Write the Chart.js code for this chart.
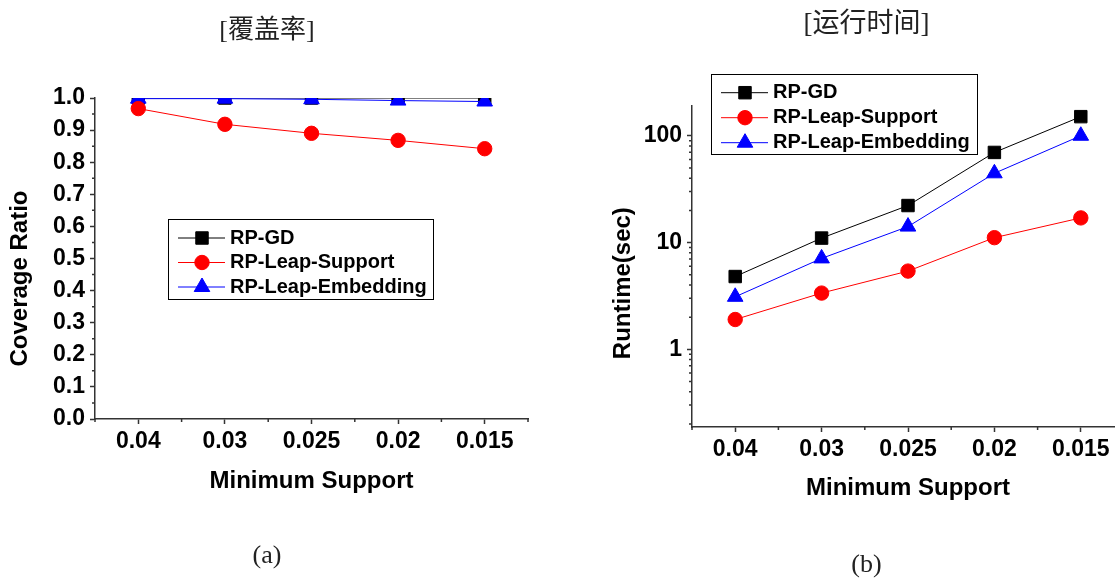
<!DOCTYPE html>
<html>
<head>
<meta charset="utf-8">
<script src="https://cdn.jsdelivr.net/npm/chart.js@4"></script>
<style>
  body { margin: 0; background: #fff; overflow: hidden; width: 1115px; height: 578px; position: relative; }
  canvas { position: absolute; top: 0; }
</style>
</head>
<body>
<canvas id="coverage" width="538" height="578" style="left:0px"></canvas>
<canvas id="runtime" width="537" height="583" style="left:597px"></canvas>
<script>
const supports = ['0.04', '0.03', '0.025', '0.02', '0.015']
const seriesNames = ['RP-GD', 'RP-Leap-Support', 'RP-Leap-Embedding']

const coverageGD = [1.0, 1.0, 1.0, 1.0, 1.0]
const coverageSupport = [0.967, 0.918, 0.89, 0.868, 0.842]
const coverageEmbedding = [0.998, 0.998, 0.996, 0.992, 0.989]

const runtimeGD = [4.8, 11, 22.2, 69.8, 151]
const runtimeSupport = [1.9, 3.36, 5.4, 11.1, 17]
const runtimeEmbedding = [3.1, 7.1, 14.1, 44.5, 100]
const runtimeTicks = [1, 10, 100]

const axisColor = '#333'
const sans = "'Liberation Sans', Arial, sans-serif"
const serif = "'Liberation Serif', 'Noto Sans CJK SC', serif"

const seriesStyle = [
  { color: '#000000', pointStyle: 'rect', radius: 8.8, order: 3 },
  { color: '#ff0000', pointStyle: 'circle', radius: 7.2, order: 1 },
  { color: '#0000ff', pointStyle: 'triangle', radius: 9, order: 2 },
]

function makeDataset(i, values, clip) {
  const s = seriesStyle[i]
  return {
    label: seriesNames[i],
    data: values,
    borderColor: s.color,
    backgroundColor: s.color,
    pointBackgroundColor: s.color,
    pointBorderColor: s.color,
    pointBorderWidth: 1,
    pointStyle: s.pointStyle,
    pointRadius: s.radius,
    borderWidth: 1,
    order: s.order,
    fill: false,
    tension: 0,
    clip: clip,
  }
}

// short ticks between categories and between decades
const minorTicks = {
  id: 'minorTicks',
  afterDraw(chart, args, opts) {
    const ctx = chart.ctx
    const x = chart.scales.x
    const y = chart.scales.y
    ctx.save()
    ctx.strokeStyle = axisColor
    ctx.lineWidth = 1.5
    ctx.beginPath()
    for (let i = -0.5; i < chart.data.labels.length; i++) {
      const px = x.getPixelForValue(i)
      ctx.moveTo(px, x.top)
      ctx.lineTo(px, x.top + 3)
    }
    opts.yMinor.forEach(v => {
      const py = y.getPixelForValue(v)
      ctx.moveTo(y.right - 3, py)
      ctx.lineTo(y.right, py)
    })
    ctx.stroke()
    ctx.restore()
  },
}

// framed legend inside the plot, like the original figure
const boxLegend = {
  id: 'boxLegend',
  afterDraw(chart, args, opts) {
    const ctx = chart.ctx
    ctx.save()
    ctx.fillStyle = '#fff'
    ctx.fillRect(opts.left, opts.top, opts.width, opts.height)
    ctx.strokeStyle = '#000'
    ctx.lineWidth = 1
    ctx.strokeRect(opts.left + 0.5, opts.top + 0.5, opts.width, opts.height)
    chart.data.datasets.forEach((ds, i) => {
      const y = opts.top + opts.firstRow + i * opts.rowGap
      ctx.strokeStyle = ds.borderColor
      ctx.lineWidth = 1
      ctx.beginPath()
      ctx.moveTo(opts.left + 10, y)
      ctx.lineTo(opts.left + 57, y)
      ctx.stroke()
      ctx.fillStyle = ds.pointBackgroundColor
      ctx.strokeStyle = ds.pointBorderColor
      Chart.helpers.drawPoint(ctx, { pointStyle: ds.pointStyle, radius: ds.pointRadius, borderWidth: 1, rotation: 0 }, opts.left + 34, y)
      ctx.fillStyle = '#000'
      ctx.font = 'bold 20px ' + sans
      ctx.textBaseline = 'middle'
      ctx.textAlign = 'left'
      ctx.fillText(ds.label, opts.left + 62, y)
    })
    ctx.restore()
  },
}

function xAxis(height, tickPad, titlePad) {
  return {
    type: 'category',
    offset: true,
    grid: { drawOnChartArea: false, drawTicks: true, tickLength: 5, tickColor: axisColor, tickWidth: 1.5, offset: false },
    border: { display: true, color: axisColor, width: 1.5 },
    ticks: { color: '#000', font: { family: sans, size: 23, weight: 'bold' }, padding: tickPad, autoSkip: false, maxRotation: 0 },
    title: { display: true, text: 'Minimum Support', color: '#000', font: { family: sans, size: 24, weight: 'bold' }, padding: { top: 0, bottom: titlePad } },
    afterFit: scale => { scale.height = height },
  }
}

function yGrid() {
  return { drawOnChartArea: false, drawTicks: true, tickLength: 5, tickColor: axisColor, tickWidth: 1.5 }
}

let coverageMinor = []
for (let v = 0.05; v < 1; v += 0.1) coverageMinor.push(v)

let runtimeMinor = []
;[0.1, 1, 10].forEach(d => {
  for (let m = 2; m <= 9; m++) runtimeMinor.push(m * d)
})

let coverageConfig = {
  type: 'line',
  data: {
    labels: supports,
    datasets: [
      makeDataset(0, coverageGD, 0),
      makeDataset(1, coverageSupport, 0),
      makeDataset(2, coverageEmbedding, 0),
    ],
  },
  options: {
    responsive: false,
    animation: false,
    events: [],
    layout: { padding: { left: 6, right: 10, top: 0, bottom: 0 } },
    scales: {
      x: xAxis(100, 4, 23.6),
      y: {
        min: 0,
        max: 1,
        grid: yGrid(),
        border: { display: true, color: axisColor, width: 1.5 },
        ticks: { stepSize: 0.1, color: '#000', padding: 5, font: { family: sans, size: 23, weight: 'bold' }, callback: v => v.toFixed(1) },
        title: { display: true, text: 'Coverage Ratio      ', color: '#000', font: { family: sans, size: 24, weight: 'bold' }, padding: { top: 0, bottom: 0 } },
        afterFit: scale => { scale.width = 89 },
      },
    },
    plugins: {
      legend: { display: false },
      tooltip: { enabled: false },
      title: { display: true, text: '[覆盖率]', color: '#222', font: { family: serif, size: 26, weight: 'normal' }, padding: { top: 16, bottom: 50.8 } },
      subtitle: { display: true, position: 'bottom', text: '(a)', color: '#222', font: { family: serif, size: 26, weight: 'normal' }, padding: { top: 21.4, bottom: 6.4 } },
      minorTicks: { yMinor: coverageMinor },
      boxLegend: { left: 168, top: 219, width: 265, height: 80, firstRow: 19, rowGap: 24.5 },
    },
  },
  plugins: [minorTicks, boxLegend],
}

let runtimeConfig = {
  type: 'line',
  data: {
    labels: supports,
    datasets: [
      makeDataset(0, runtimeGD),
      makeDataset(1, runtimeSupport),
      makeDataset(2, runtimeEmbedding),
    ],
  },
  options: {
    responsive: false,
    animation: false,
    events: [],
    layout: { padding: { left: 12, right: 10, top: 0, bottom: 0 } },
    scales: {
      x: xAxis(102.4, 4, 27),
      y: {
        type: 'logarithmic',
        min: 0.187,
        max: 190,
        grid: yGrid(),
        border: { display: true, color: axisColor, width: 1.5 },
        afterBuildTicks: scale => { scale.ticks = runtimeTicks.map(v => ({ value: v, major: true })) },
        ticks: { color: '#000', padding: 5, font: { family: sans, size: 23, weight: 'bold' }, callback: v => String(v) },
        title: { display: true, text: 'Runtime(sec)     ', color: '#000', font: { family: sans, size: 24, weight: 'bold' }, padding: { top: 0, bottom: 0 } },
        afterFit: scale => { scale.width = 83 },
      },
    },
    plugins: {
      legend: { display: false },
      tooltip: { enabled: false },
      title: { display: true, text: '[运行时间]', color: '#222', font: { family: serif, size: 27, weight: 'normal' }, padding: { top: 8.8, bottom: 64.8 } },
      subtitle: { display: true, position: 'bottom', text: '(b)', color: '#222', font: { family: serif, size: 26, weight: 'normal' }, padding: { top: 20, bottom: 2.4 } },
      minorTicks: { yMinor: runtimeMinor },
      boxLegend: { left: 114, top: 74, width: 266, height: 80, firstRow: 18.7, rowGap: 25 },
    },
  },
  plugins: [minorTicks, boxLegend],
}

let coverageChart = new Chart(document.getElementById('coverage'), coverageConfig)
let runtimeChart = new Chart(document.getElementById('runtime'), runtimeConfig)
</script>
</body>
</html>
